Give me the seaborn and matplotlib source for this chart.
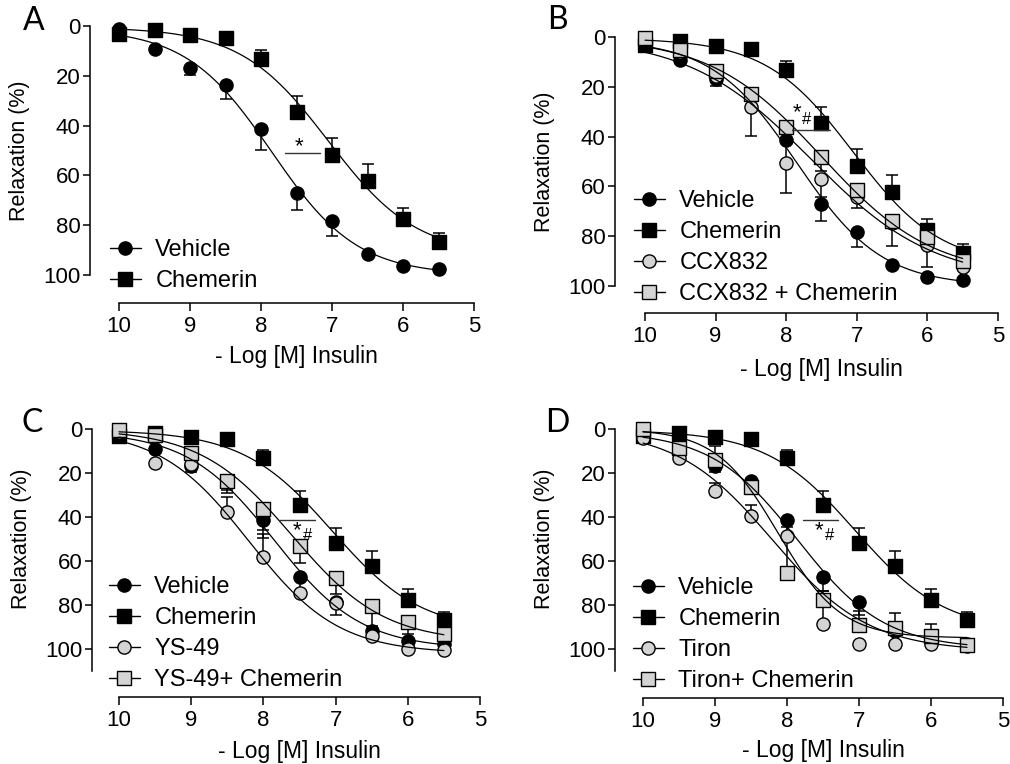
import numpy as np
import pandas as pd
import matplotlib
matplotlib.use("Agg")
import matplotlib.pyplot as plt
from matplotlib.lines import Line2D
import seaborn as sns

# -log [M] insulin
x_log = [10, 9.5, 9, 8.5, 8, 7.5, 7, 6.5, 6, 5.5]

# relaxation (%) means and one-sided SEM
vehicle = [1.3, 9.1, 16.7, 23.8, 41.4, 67.1, 78.5, 91.6, 96.5, 97.6]
vehicle_err = [0, 0, 3.0, 5.5, 8.3, 6.7, 6.0, 1.0, 0.8, 0.5]
chemerin = [3.3, 1.6, 3.5, 4.7, 13.4, 34.5, 51.7, 62.4, 77.5, 86.9]
chemerin_err = [0, 0, 0, 0, 3.8, 6.2, 6.9, 7.1, 4.6, 3.7]
ccx = [1.0, 6.0, 15.5, 28.2, 50.7, 56.9, 64.1, 74.5, 83.5, 92.2]
ccx_err = [0, 0, 0, 11.4, 11.8, 7.2, 4.7, 0, 8.7, 0]
ccx_chem = [0.5, 5.2, 13.5, 23.0, 36.0, 48.1, 61.4, 73.8, 80.2, 89.8]
ccx_chem_err = [0, 0, 0, 0, 0, 5.7, 0, 10.0, 0, 0]
ys49 = [1.5, 15.4, 15.7, 37.9, 58.0, 74.4, 79.0, 94.0, 100.1, 100.5]
ys49_err = [0, 0, 0, 6.9, 10.1, 0, 0, 0, 0, 0]
ys49_chem = [0.5, 2.7, 11.0, 23.6, 36.5, 53.2, 67.9, 80.5, 87.6, 93.2]
ys49_chem_err = [0, 0, 0, 4.1, 9.4, 7.6, 7.0, 9.0, 5.6, 0]
tiron = [4.2, 13.3, 28.2, 39.4, 48.6, 88.8, 97.6, 97.6, 97.5, 98.5]
tiron_err = [0, 0, 3.8, 4.9, 3.9, 10.5, 0, 0, 0, 0]
tiron_chem = [0.0, 8.8, 14.1, 26.2, 65.6, 77.7, 89.1, 90.6, 94.0, 98.2]
tiron_chem_err = [0, 0, 6.4, 0, 16.5, 4.2, 6.5, 6.8, 5.5, 0]

# fitted curve parameters: bottom, top, pEC50, hill slope
vehicle_fit = [1, 100, 7.85, 0.72]
chemerin_fit = [0.5, 92, 7.05, 0.7]
ccx_fit = [0, 98, 7.65, 0.5]
ccx_chem_fit = [0, 96, 7.5, 0.55]
ys49_fit = [0, 102, 8.2, 0.7]
ys49_chem_fit = [0, 97, 7.6, 0.68]
tiron_fit = [0, 101, 8.2, 0.65]
tiron_chem_fit = [0, 95, 8.12, 1.0]

GRAY = "#d4d4d4"

def series(label, y, err, up, marker, face, fit):
    return dict(label=label, y=y, err=err, up=up, marker=marker, face=face, fit=fit)

veh = series("Vehicle", vehicle, vehicle_err, False, "o", "black", vehicle_fit)
chem = series("Chemerin", chemerin, chemerin_err, True, "s", "black", chemerin_fit)

# box = (y-axis x, x=10 px, x=5 px, y=0 px, x-axis px), px per % unit
panels = [
    dict(letter="A", box=(90, 119, 474, 26, 303), ppu=2.49, ybound=100,
         data=[veh, chem], leg=(110, 239),
         line=(7.66, 7.17, 51.1), star=(7.46, 48.5), hash=None, xl=345, letpos=(34, 21)),
    dict(letter="B", box=(615, 645, 998, 37, 313), ppu=2.49, ybound=100,
         data=[veh, chem,
               series("CCX832", ccx, ccx_err, False, "o", GRAY, ccx_fit),
               series("CCX832 + Chemerin", ccx_chem, ccx_chem_err, False, "s", GRAY, ccx_chem_fit)],
         leg=(634, 190), line=(7.92, 7.38, 37.3), star=(7.85, 30.5), hash=(7.71, 33.3),
         xl=358, letpos=(557, 20)),
    dict(letter="C", box=(92, 119, 480, 429, 697), ppu=2.2, ybound=110,
         data=[veh, chem,
               series("YS-49", ys49, ys49_err, True, "o", GRAY, ys49_fit),
               series("YS-49+ Chemerin", ys49_chem, ys49_chem_err, False, "s", GRAY, ys49_chem_fit)],
         leg=(109, 576), line=(7.77, 7.29, 41.2), star=(7.54, 46.0), hash=(7.39, 48.3),
         xl=740, letpos=(32, 423)),
    dict(letter="D", box=(615, 643, 1003, 429, 698), ppu=2.2, ybound=110,
         data=[veh, chem,
               series("Tiron", tiron, tiron_err, True, "o", GRAY, tiron_fit),
               series("Tiron+ Chemerin", tiron_chem, tiron_chem_err, True, "s", GRAY, tiron_chem_fit)],
         leg=(633, 577), line=(7.78, 7.29, 41.2), star=(7.55, 46.3), hash=(7.41, 48.6),
         xl=739, letpos=(557, 423)),
]

sns.set_theme(style="ticks")
plt.rcParams['font.family'] = ['Liberation Sans', 'DejaVu Sans']
for k in ("text.color", "axes.labelcolor", "xtick.color", "ytick.color", "axes.edgecolor"):
    plt.rcParams[k] = "black"

W, H = 1010, 764
fig = plt.figure(figsize=(W / 100, H / 100), dpi=100)

xfit = np.linspace(10, 5.5, 200)


def hill(x, fit):
    b, t, p, h = fit
    return b + (t - b) / (1 + 10 ** ((x - p) * h))


for pn in panels:
    ya, x10, x5, y0, yb = pn["box"]
    ax = fig.add_axes([ya / W, 1 - yb / H, (x5 - ya) / W, (yb - y0) / H])
    pxu = (x5 - x10) / 5.0
    xleft = 10 + (x10 - ya) / pxu
    for s in pn["data"]:
        err = np.array(s["err"])
        zero = np.zeros_like(err)
        yerr = [err, zero] if s["up"] else [zero, err]
        ax.errorbar(x_log, s["y"], yerr=yerr, fmt="none", ecolor="black",
                    elinewidth=1.1, capsize=4.3, capthick=1.1, zorder=2, clip_on=False)
    handles = []
    for s in pn["data"]:
        df = pd.DataFrame({"x": x_log, "y": s["y"]})
        sns.scatterplot(data=df, x="x", y="y", ax=ax, marker=s["marker"], s=90,
                        color=s["face"], edgecolor="black", linewidth=1.0,
                        zorder=3, clip_on=False)
        handles.append(Line2D([], [], color="black", lw=1.0, marker=s["marker"],
                              markersize=9.5, markerfacecolor=s["face"],
                              markeredgecolor="black", markeredgewidth=1.0))
    for s in pn["data"]:
        cdf = pd.DataFrame({"x": xfit, "y": hill(xfit, s["fit"])})
        sns.lineplot(data=cdf, x="x", y="y", ax=ax, color="black", lw=0.9,
                     sort=False, zorder=4)

    ax.set_xlim(xleft, 5)
    ax.set_ylim((yb - y0) / pn["ppu"], 0)
    ax.set_xticks([10, 9, 8, 7, 6, 5])
    ax.set_xticklabels(["10", "9", "8", "7", "6", "5"])
    ax.set_yticks([0, 20, 40, 60, 80, 100])
    sns.despine(ax=ax)
    ax.spines["left"].set_bounds(0, pn["ybound"])
    ax.spines["bottom"].set_bounds(5, 10)
    for sp in ("left", "bottom"):
        ax.spines[sp].set_linewidth(1.1)
        ax.spines[sp].set_color("black")
    ax.tick_params(axis="y", direction="out", length=5, width=1.1, pad=2,
                   labelsize=16, colors="black")
    ax.tick_params(axis="x", direction="out", length=6, width=1.1, pad=3.5,
                   labelsize=16, colors="black")
    ax.set_xlabel("- Log [M] Insulin", fontsize=16.5)
    ax.xaxis.set_label_coords(((x10 + x5) / 2 - ya) / (x5 - ya), (yb - pn["xl"]) / (yb - y0))
    ax.set_ylabel("Relaxation (%)", fontsize=15.5)
    ax.yaxis.set_label_coords(-60 / (x5 - ya), 1 - (50 * pn["ppu"]) / (yb - y0))

    # significance marker
    x0, x1, yl = pn["line"]
    ax.plot([x0, x1], [yl, yl], color="#333333", lw=1.0, zorder=5)
    ax.text(pn["star"][0], pn["star"][1], "*", fontsize=16, ha="center", va="center")
    if pn["hash"]:
        ax.text(pn["hash"][0], pn["hash"][1], "#", fontsize=12, ha="center", va="center")

    ax.legend(handles, [s["label"] for s in pn["data"]], loc="upper left",
              bbox_to_anchor=(pn["leg"][0] / W, 1 - pn["leg"][1] / H),
              bbox_transform=fig.transFigure, frameon=False, fontsize=17,
              handlelength=1.3, handletextpad=0.62, labelspacing=0.38,
              borderpad=0, borderaxespad=0)

    fig.text(pn["letpos"][0] / W, 1 - pn["letpos"][1] / H, pn["letter"],
             fontsize=23, family=["Lato", "DejaVu Sans"], ha="center", va="center")

fig.savefig("out.png", dpi=100)
